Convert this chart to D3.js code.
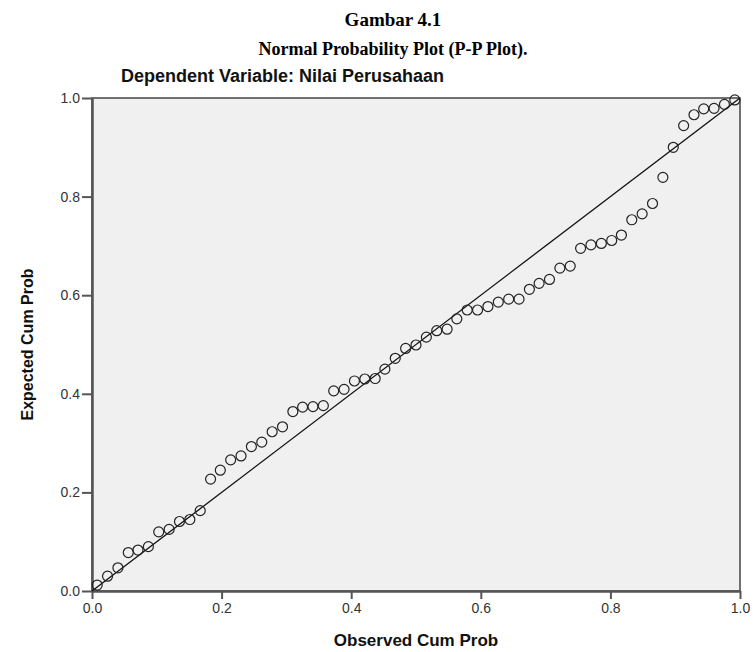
<!DOCTYPE html>
<html>
<head>
<meta charset="utf-8">
<script src="https://cdn.jsdelivr.net/npm/d3@7"></script>
<style>
  body { margin: 0; background: #fff; }
</style>
</head>
<body>
<div id="chart"></div>
<script>
// observed cum prob (x) and expected cum prob (y)
var observed = [0.008, 0.024, 0.040, 0.056, 0.071, 0.087, 0.103, 0.119, 0.135, 0.151,
    0.167, 0.183, 0.198, 0.214, 0.230, 0.246, 0.262, 0.278, 0.294, 0.310,
    0.325, 0.341, 0.357, 0.373, 0.389, 0.405, 0.421, 0.437, 0.452, 0.468,
    0.484, 0.500, 0.516, 0.532, 0.548, 0.563, 0.579, 0.595, 0.611, 0.627,
    0.643, 0.659, 0.675, 0.690, 0.706, 0.722, 0.738, 0.754, 0.770, 0.786,
    0.802, 0.817, 0.833, 0.849, 0.865, 0.881, 0.897, 0.913, 0.929, 0.944,
    0.960, 0.976, 0.992]
var expected = [0.012, 0.030, 0.047, 0.078, 0.083, 0.090, 0.120, 0.125, 0.141, 0.145,
    0.163, 0.227, 0.245, 0.266, 0.274, 0.293, 0.302, 0.323, 0.333, 0.364,
    0.373, 0.374, 0.376, 0.406, 0.409, 0.426, 0.430, 0.431, 0.450, 0.472,
    0.492, 0.499, 0.515, 0.528, 0.531, 0.552, 0.570, 0.570, 0.577, 0.586,
    0.592, 0.592, 0.612, 0.624, 0.632, 0.655, 0.659, 0.695, 0.702, 0.705,
    0.711, 0.722, 0.753, 0.765, 0.786, 0.839, 0.900, 0.944, 0.966, 0.978,
    0.979, 0.987, 0.996]
var ticks = [0, 0.2, 0.4, 0.6, 0.8, 1.0]
var diagonal = [[0, 0], [1, 1]]

var width = 755
var height = 652
var marginLeft = 92
var marginRight = 15
var marginTop = 98
var marginBottom = 61
var W = width - marginLeft - marginRight
var H = height - marginTop - marginBottom

var svg = d3.select('#chart').append('svg')
    .attr('width', width)
    .attr('height', height)

// titles
svg.append('text')
    .attr('x', 393).attr('y', 26)
    .attr('text-anchor', 'middle')
    .attr('font-family', '"Liberation Serif", "Times New Roman", serif')
    .attr('font-weight', 'bold')
    .attr('font-size', 19)
    .text('Gambar 4.1')
svg.append('text')
    .attr('x', 393).attr('y', 55)
    .attr('text-anchor', 'middle')
    .attr('font-family', '"Liberation Serif", "Times New Roman", serif')
    .attr('font-weight', 'bold')
    .attr('font-size', 18)
    .text('Normal Probability Plot (P-P Plot).')
svg.append('text')
    .attr('x', 121).attr('y', 82)
    .attr('font-family', '"Liberation Sans", Arial, sans-serif')
    .attr('font-weight', 'bold')
    .attr('font-size', 18)
    .attr('fill', '#111')
    .text('Dependent Variable: Nilai Perusahaan')

var X = d3.scaleLinear().domain([0, 1]).range([0, W])
var Y = d3.scaleLinear().domain([0, 1]).range([H, 0])

var g = svg.append('g')
    .attr('transform', 'translate(' + marginLeft + ',' + marginTop + ')')

g.append('rect')
    .attr('width', W).attr('height', H)
    .attr('fill', '#f0f0f0')
    .attr('stroke', '#444')
    .attr('stroke-width', 1.5)

// axes
var xAxis = g.append('g')
    .attr('transform', 'translate(0,' + H + ')')
    .call(d3.axisBottom(X).tickValues(ticks).tickFormat(d3.format('.1f')).tickSize(8).tickSizeOuter(0))
var yAxis = g.append('g')
    .call(d3.axisLeft(Y).tickValues(ticks).tickFormat(d3.format('.1f')).tickSize(10).tickSizeOuter(0))

;[xAxis, yAxis].forEach(function (a) {
    a.select('.domain').attr('stroke', '#555').attr('stroke-width', 2.5)
    a.selectAll('.tick line').attr('stroke', '#555').attr('stroke-width', 2)
    a.selectAll('.tick text')
        .attr('font-family', '"Liberation Sans", Arial, sans-serif')
        .attr('font-size', 14)
        .attr('fill', '#333')
})
xAxis.selectAll('.tick text').attr('dy', '0.71em').attr('y', 12)
yAxis.selectAll('.tick text').attr('x', -12)

// reference line
g.append('path')
    .datum(diagonal)
    .attr('d', d3.line().x(function (d) { return X(d[0]) }).y(function (d) { return Y(d[1]) }))
    .attr('stroke', '#111')
    .attr('stroke-width', 1.3)
    .attr('fill', 'none')

// points
g.append('g').selectAll('circle')
    .data(observed)
    .enter()
    .append('circle')
    .attr('cx', function (d) { return X(d) })
    .attr('cy', function (d, i) { return Y(expected[i]) })
    .attr('r', 5)
    .attr('fill', 'none')
    .attr('stroke', '#222')
    .attr('stroke-width', 1.2)

// axis titles
svg.append('text')
    .attr('x', marginLeft + W / 2).attr('y', 646)
    .attr('text-anchor', 'middle')
    .attr('font-family', '"Liberation Sans", Arial, sans-serif')
    .attr('font-weight', 'bold')
    .attr('font-size', 17)
    .attr('fill', '#111')
    .text('Observed Cum Prob')
svg.append('text')
    .attr('transform', 'translate(33,' + (marginTop + H / 2) + ') rotate(-90)')
    .attr('text-anchor', 'middle')
    .attr('font-family', '"Liberation Sans", Arial, sans-serif')
    .attr('font-weight', 'bold')
    .attr('font-size', 16)
    .attr('fill', '#111')
    .text('Expected Cum Prob')
</script>
</body>
</html>
